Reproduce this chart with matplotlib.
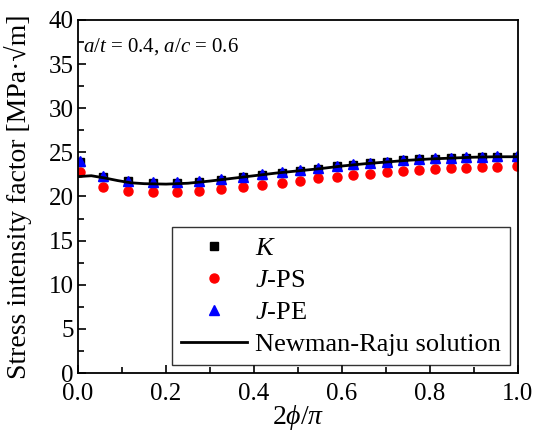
import matplotlib
matplotlib.use('Agg')
import matplotlib.pyplot as plt
from matplotlib.ticker import MultipleLocator, FormatStrFormatter

plt.rcParams['font.family'] = ['Liberation Serif', 'DejaVu Serif']
plt.rcParams['mathtext.fontset'] = 'custom'
plt.rcParams['mathtext.rm'] = 'Liberation Serif'
plt.rcParams['mathtext.it'] = 'Liberation Serif:italic'

# 2phi/pi positions of the crack-front nodes
x_nodes = [0.005, 0.057, 0.114, 0.17, 0.225, 0.275, 0.325, 0.375, 0.418, 0.464,
           0.505, 0.545, 0.589, 0.625, 0.664, 0.702, 0.739, 0.775, 0.811, 0.848,
           0.882, 0.918, 0.952, 0.998]
K_vals = [23.9, 22.2, 21.7, 21.5, 21.5, 21.6, 21.9, 22.2, 22.4, 22.7,
          22.9, 23.1, 23.4, 23.6, 23.8, 23.9, 24.1, 24.2, 24.3, 24.4,
          24.4, 24.5, 24.5, 24.5]
J_PS = [22.8, 21.1, 20.6, 20.5, 20.5, 20.65, 20.85, 21.1, 21.35, 21.55,
        21.8, 22.05, 22.25, 22.4, 22.6, 22.75, 22.9, 23.0, 23.1, 23.2,
        23.25, 23.3, 23.35, 23.4]
J_PE = [24.05, 22.3, 21.8, 21.6, 21.6, 21.7, 21.95, 22.25, 22.5, 22.75,
        22.95, 23.2, 23.45, 23.65, 23.8, 23.95, 24.1, 24.2, 24.35, 24.4,
        24.45, 24.5, 24.55, 24.55]

# Newman-Raju solution curve
x_nr = [0.0, 0.03, 0.06, 0.09, 0.12, 0.15, 0.2, 0.25, 0.3, 0.35, 0.4, 0.45,
        0.5, 0.55, 0.6, 0.65, 0.7, 0.75, 0.8, 0.85, 0.9, 0.95, 1.0]
y_nr = [22.25, 22.35, 22.1, 21.8, 21.55, 21.45, 21.4, 21.5, 21.75, 22.05, 22.35, 22.65,
        22.9, 23.15, 23.45, 23.7, 23.9, 24.1, 24.25, 24.35, 24.45, 24.5, 24.5]

fig = plt.figure(figsize=(5.35, 4.43), dpi=100)
ax = fig.add_axes([0.146, 0.158, 0.822, 0.797])

ax.plot(x_nodes, K_vals, 's', color='black', markersize=6, label='$K$')
ax.plot(x_nodes, J_PS, 'o', color='red', markersize=6.5, label='$J$-PS')
ax.plot(x_nodes, J_PE, '^', color='blue', markersize=6.5, label='$J$-PE')
ax.plot(x_nr, y_nr, '-', color='black', linewidth=2, label='Newman-Raju solution')

ax.set_xlim(0, 1.0)
ax.set_ylim(0, 40)
ax.xaxis.set_major_locator(MultipleLocator(0.2))
ax.xaxis.set_minor_locator(MultipleLocator(0.1))
ax.yaxis.set_major_locator(MultipleLocator(5))
ax.yaxis.set_minor_locator(MultipleLocator(2.5))
ax.xaxis.set_major_formatter(FormatStrFormatter('%.1f'))
ax.tick_params(which='both', direction='in', top=False, right=False, labelsize=18)
ax.tick_params(which='major', length=6, width=1.2)
ax.tick_params(which='minor', length=4, width=1.2)
ax.tick_params(axis='x', pad=7)
ax.tick_params(axis='y', pad=3)
for s in ax.spines.values():
    s.set_linewidth(1.3)

ax.set_xlabel(r'2$\phi$/$\pi$', fontsize=20)
ax.xaxis.set_label_coords(0.5, -0.085)
ax.set_ylabel('Stress intensity factor [MPa·√m]', fontsize=20)
ax.yaxis.set_label_coords(-0.105, 0.5)
ax.text(0.012, 0.955, '$a$/$t$ = 0.4, $a$/$c$ = 0.6', transform=ax.transAxes,
        fontsize=15, va='top', ha='left')

leg = ax.legend(loc='lower right', fontsize=19, frameon=True, fancybox=False,
                edgecolor='black', numpoints=1, handlelength=2.5,
                borderaxespad=0.3, labelspacing=0.32, handletextpad=0.3,
                borderpad=0.35)
leg.get_frame().set_linewidth(1.0)

fig.savefig('out.png', dpi=100)
